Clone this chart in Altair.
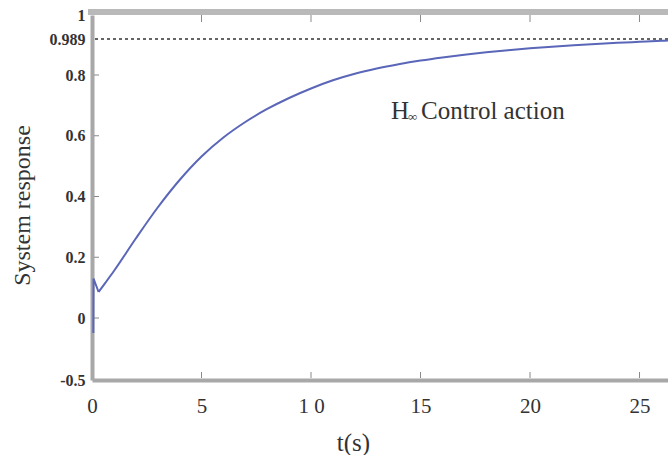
import altair as alt
import pandas as pd

# ---- data ----
# initial spike at t ~ 0
spike_t = [0.06, 0.07, 0.3]
spike_v = [-0.12, 0.13, 0.0856]
# main response after the dip
t_vals = [0.3, 0.6, 1, 2, 3, 4, 5, 6, 7, 8, 9, 10, 11, 12, 13, 14, 15, 16, 17, 18,
          19, 20, 21, 22, 23, 24, 25, 26, 26.3]
response = [0.0856, 0.115, 0.1547, 0.2617, 0.3638, 0.4543, 0.5317, 0.5942, 0.6453,
            0.6881, 0.7243, 0.7556, 0.7825, 0.8063, 0.8336, 0.8562, 0.8756, 0.8921,
            0.9066, 0.9192, 0.9302, 0.9399, 0.9483, 0.9559, 0.9628, 0.9688, 0.9743,
            0.9796, 0.9812]
x_ticks = [0, 5, 10, 15, 20, 25]
y_ticks = [-0.5, 0, 0.2, 0.4, 0.6, 0.8, 0.989, 1]
inner_y_ticks = [0, 0.2, 0.4, 0.6, 0.8]
inner_x_ticks = [5, 10, 15, 20, 25]
steady_state = [0.989]
ann_t = [13.65]
ann_v = [0.681]

W, H = 576, 365
FONT = "Liberation Serif"
LINE_COLOR = "#5a66b8"

xscale = alt.Scale(domain=[0, 26.3], nice=False, zero=False)
yscale = alt.Scale(domain=[-0.5, 0, 0.8, 0.989, 1], range=[H, 303, 60, 24, 0],
                   nice=False, zero=False)

curve_df = pd.DataFrame({"t": t_vals, "v": response})
spike_df = pd.DataFrame({"t": spike_t, "v": spike_v})
ss_df = pd.DataFrame({"v": steady_state})
ytick_df = pd.DataFrame({"v": inner_y_ticks})
xtick_df = pd.DataFrame({"t": inner_x_ticks})
ann_df = pd.DataFrame({"t": ann_t, "v": ann_v})

curve = alt.Chart(curve_df).mark_line(color=LINE_COLOR, strokeWidth=2,
                                      interpolate="monotone").encode(
    x=alt.X("t:Q", scale=xscale,
            axis=alt.Axis(values=x_ticks, title="t(s)",
                          labelExpr="datum.value == 10 ? '1 0' : '' + datum.value",
                          titleX=261, titleY=62, titleBaseline="middle")),
    y=alt.Y("v:Q", scale=yscale,
            axis=alt.Axis(values=y_ticks, title="System response",
                          labelExpr="'' + datum.value",
                          titleX=-70, titleY=190, titleBaseline="middle")),
)

spike = alt.Chart(spike_df).mark_line(color=LINE_COLOR, strokeWidth=2).encode(
    x=alt.X("t:Q", scale=xscale), y=alt.Y("v:Q", scale=yscale))

ss_line = alt.Chart(ss_df).mark_rule(color="#333333", strokeWidth=1.6,
                                     strokeDash=[3, 3]).encode(
    y=alt.Y("v:Q", scale=yscale))

top_frame = alt.Chart(ss_df).mark_rule(color="#b9b9b9", strokeWidth=6).encode(
    x=alt.value(-4), x2=alt.value(W), y=alt.value(-3))

ytick = alt.Chart(ytick_df).mark_rule(color="#8a8a8a", strokeWidth=1).encode(
    y=alt.Y("v:Q", scale=yscale), x=alt.value(2), x2=alt.value(7))

xtick_bottom = alt.Chart(xtick_df).mark_rule(color="#8a8a8a", strokeWidth=1).encode(
    x=alt.X("t:Q", scale=xscale), y=alt.value(H - 2), y2=alt.value(H - 8))

xtick_top = alt.Chart(xtick_df).mark_rule(color="#8a8a8a", strokeWidth=1).encode(
    x=alt.X("t:Q", scale=xscale), y=alt.value(0), y2=alt.value(7))

txt_kw = dict(font=FONT, color="#333333", align="left", baseline="middle")
ann_H = alt.Chart(ann_df).mark_text(fontSize=25, **txt_kw).encode(
    x=alt.X("t:Q", scale=xscale), y=alt.Y("v:Q", scale=yscale), text=alt.value("H"))
ann_inf = alt.Chart(ann_df).mark_text(fontSize=13, dx=17, dy=6, **txt_kw).encode(
    x=alt.X("t:Q", scale=xscale), y=alt.Y("v:Q", scale=yscale), text=alt.value("∞"))
ann_rest = alt.Chart(ann_df).mark_text(fontSize=25, dx=30, **txt_kw).encode(
    x=alt.X("t:Q", scale=xscale), y=alt.Y("v:Q", scale=yscale),
    text=alt.value("Control action"))

chart = alt.layer(
    top_frame, ss_line, ytick, xtick_bottom, xtick_top, curve, spike,
    ann_H, ann_inf, ann_rest
).properties(
    width=W, height=H,
    padding={"left": 92, "top": 15, "right": 0, "bottom": 75},
    autosize=alt.AutoSizeParams(type="none"),
).configure_view(stroke=None).configure_axis(
    grid=False, ticks=False, domainColor="#a8a8a8", domainWidth=4, zindex=0,
    labelFont=FONT, titleFont=FONT, labelColor="#333333", titleColor="#333333",
    titleFontWeight="normal", labelOverlap=False, labelFlush=False,
).configure_axisX(
    labelFontSize=21, labelPadding=15, titleFontSize=25,
).configure_axisY(
    labelFontSize=16, labelFontWeight="bold", labelPadding=7, titleFontSize=24,
)

chart.save("out.html", embed_options={"renderer": "svg", "actions": False})
